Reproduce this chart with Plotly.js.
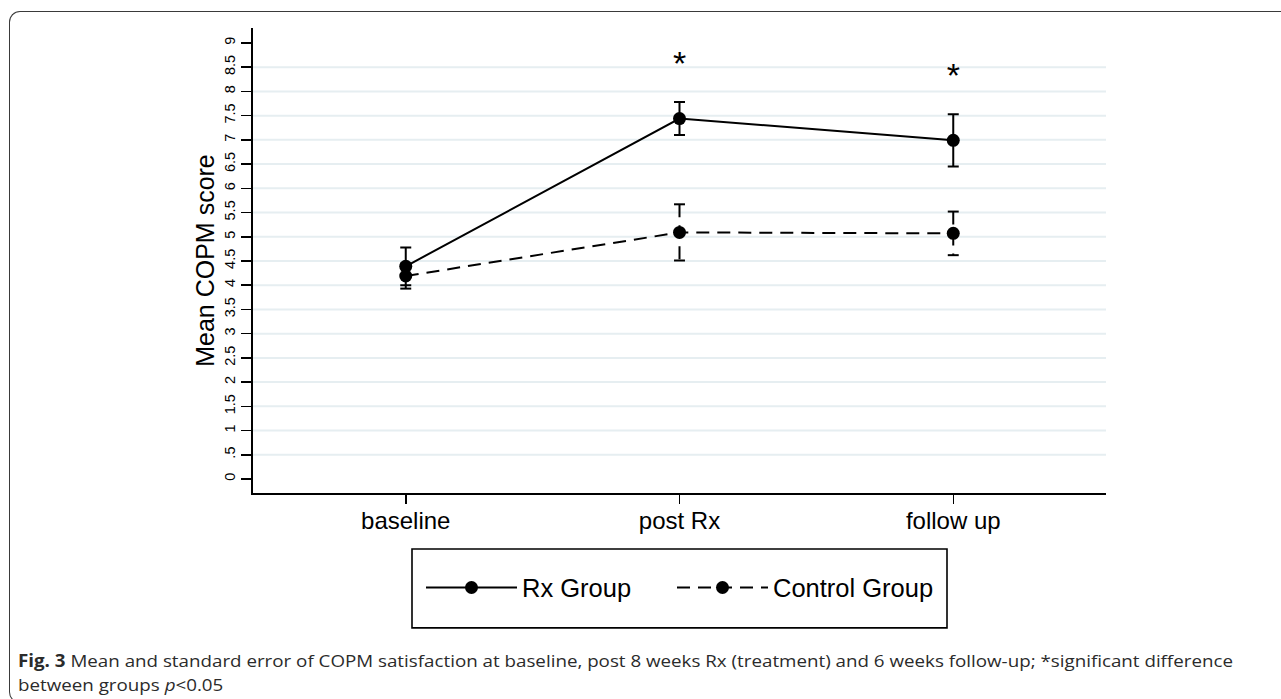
<!DOCTYPE html>
<html>
<head>
<meta charset="utf-8">
<script src="https://cdn.plot.ly/plotly-3.0.1.min.js"></script>
<style>
  html, body { margin: 0; padding: 0; background: #ffffff; }
  #wrap { position: relative; width: 1281px; height: 699px; overflow: hidden; background: #fff; }
  #chart { position: absolute; left: 0; top: 0; width: 1281px; height: 699px; }
  #frame { position: absolute; left: 9px; top: 11px; width: 1300px; height: 690px;
           border-left: 1.6px solid #3a3a3a; border-top: 1.6px solid #3a3a3a;
           border-top-left-radius: 11px; border-bottom-left-radius: 11px;
           border-bottom: 1.6px solid #3a3a3a; pointer-events: none; }
  #caption { position: absolute; left: 18px; top: 649px; font-family: "Open Sans", "Liberation Sans", Arial, sans-serif;
             font-size: 17px; line-height: 24px; color: #2b2b2b; white-space: nowrap; transform-origin: 0 0; }
  #caption b { font-weight: bold; }
</style>
</head>
<body>
<div id="wrap">
  <div id="chart"></div>
  <div id="frame"></div>
  <div id="caption"><div id="cap1"><b>Fig. 3</b> Mean and standard error of COPM satisfaction at baseline, post 8 weeks Rx (treatment) and 6 weeks follow-up; *significant difference</div><div id="cap2">between groups <i>p</i>&lt;0.05</div></div>
</div>
<script>
// ---- data ----
const categories = ['baseline', 'post Rx', 'follow up'];
const rxMean   = [4.39, 7.44, 6.99];
const rxSE     = [0.39, 0.34, 0.54];
const ctrlMean = [4.19, 5.09, 5.07];
const ctrlSE   = [0.26, 0.58, 0.45];
const sigMarks = ['', '*', '*'];
const sigY     = [null, 8.52, 8.26];
const yTickVals  = [0, 0.5, 1, 1.5, 2, 2.5, 3, 3.5, 4, 4.5, 5, 5.5, 6, 6.5, 7, 7.5, 8, 8.5, 9];
const yTickText  = ['0', '.5', '1', '1.5', '2', '2.5', '3', '3.5', '4', '4.5', '5', '5.5', '6', '6.5', '7', '7.5', '8', '8.5', '9'];
const gridVals   = [0.5, 1, 1.5, 2, 2.5, 3, 3.5, 4, 4.5, 5, 5.5, 6, 6.5, 7, 7.5, 8, 8.5];

const xs = categories.map((c, i) => i);
const capHalf = 0.02; // cap half-width in x units (style)

// dashed error bars for control group, built from the data arrays (drawn top to bottom)
const ctrlErrX = [], ctrlErrY = [];
xs.forEach((x, i) => {
  const lo = ctrlMean[i] - ctrlSE[i], hi = ctrlMean[i] + ctrlSE[i];
  ctrlErrX.push(x, x, null, x - capHalf, x + capHalf, null, x - capHalf, x + capHalf, null);
  ctrlErrY.push(hi, lo, null, hi, hi, null, lo, lo, null);
});

const font = '"Liberation Sans", Arial, Helvetica, sans-serif';

const traces = [
  {
    x: xs, y: rxMean, type: 'scatter', mode: 'lines+markers', name: 'Rx Group', legendwidth: 145,
    line: { color: '#000', width: 2 },
    marker: { color: '#000', size: 13, symbol: 'circle' },
    error_y: { type: 'data', array: rxSE, visible: true, color: '#000', thickness: 2, width: 5.5 }
  },
  {
    x: ctrlErrX, y: ctrlErrY, type: 'scatter', mode: 'lines', showlegend: false, hoverinfo: 'skip',
    line: { color: '#000', width: 2, dash: '13px,8px' }, connectgaps: false
  },
  {
    x: xs, y: ctrlMean, type: 'scatter', mode: 'lines+markers', name: 'Control Group', legendwidth: 175,
    line: { color: '#000', width: 2, dash: '13px,8px' },
    marker: { color: '#000', size: 13, symbol: 'circle' }
  },
  {
    x: xs, y: sigY, type: 'scatter', mode: 'text', text: sigMarks, showlegend: false, hoverinfo: 'skip',
    textposition: 'middle center', textfont: { family: font, size: 34, color: '#000' }
  }
];

const shapes = gridVals.map(v => ({
  type: 'line', xref: 'paper', yref: 'y', x0: 0, x1: 1, y0: v, y1: v, layer: 'below',
  line: { color: '#e6eef1', width: 2 }
}));
// legend box
shapes.push({ type: 'rect', xref: 'paper', yref: 'paper', x0: (412 - 253) / 853, x1: (947 - 253) / 853,
  y0: (493 - 628) / 465.3, y1: (493 - 549) / 465.3, line: { color: '#000', width: 1.6 }, fillcolor: 'rgba(0,0,0,0)' });

const layout = {
  width: 1281, height: 699,
  margin: { l: 253, r: 175, t: 28, b: 206, pad: 0 },
  paper_bgcolor: '#fff', plot_bgcolor: '#fff',
  font: { family: font, color: '#000' },
  showlegend: true,
  legend: {
    orientation: 'h', x: (421 - 253) / 853, xanchor: 'left', y: (493 - 588) / 465.3, yanchor: 'middle',
    font: { family: font, size: 25.5, color: '#000' }, borderwidth: 0, bgcolor: 'rgba(0,0,0,0)',
    itemwidth: 91, entrywidthmode: 'pixels'
  },
  xaxis: {
    range: [-0.558, 2.558], tickmode: 'array', tickvals: xs, ticktext: categories,
    showgrid: false, zeroline: false, showline: true, linecolor: '#000', linewidth: 1.8,
    ticks: 'outside', ticklen: 9, tickwidth: 1.5, tickcolor: '#000', ticklabelstandoff: -4,
    tickfont: { family: font, size: 24, color: '#000' }
  },
  yaxis: {
    range: [-0.289, 9.309], tickmode: 'array', tickvals: yTickVals, ticktext: yTickText,
    showgrid: false, zeroline: false, showline: true, linecolor: '#000', linewidth: 1.8,
    ticks: 'outside', ticklen: 10, tickwidth: 1.6, tickcolor: '#000', tickangle: -90,
    tickfont: { family: font, size: 14.5, color: '#000' },
    title: { text: 'Mean COPM score', font: { family: font, size: 25, color: '#000' }, standoff: 1 }
  },
  shapes: shapes
};

Plotly.newPlot('chart', traces, layout, { displayModeBar: false, staticPlot: true }).then(() => {
  const cap = document.getElementById('caption');
  const c1 = document.getElementById('cap1');
  const w = c1.getBoundingClientRect().width;
  const target = 1215;
  if (w > 0) cap.style.transform = 'scaleX(' + (target / w) + ')';
});
</script>
</body>
</html>
